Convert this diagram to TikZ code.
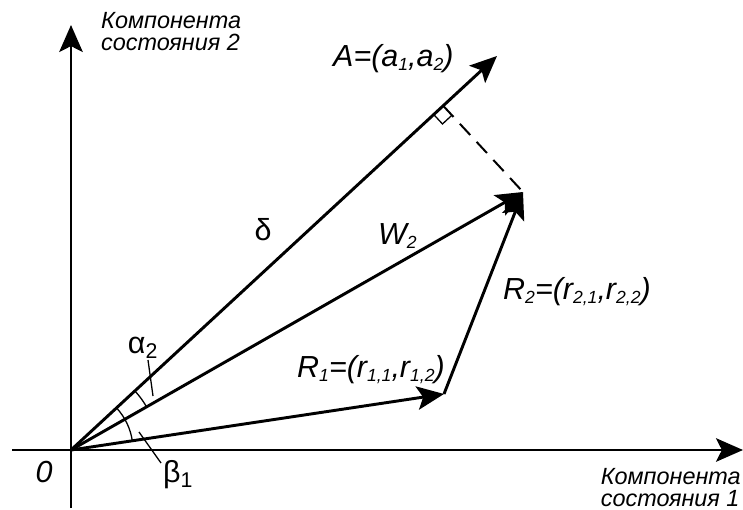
\documentclass[tikz,border=0pt]{standalone}
\usepackage{fontspec}
\setmainfont{Liberation Sans}
\usetikzlibrary{arrows.meta,calc,angles}

\newcommand{\lowidx}[1]{\raisebox{-0.2ex}{\fontsize{15}{15}\selectfont #1}}

\tikzset{
  vec/.style={line width=2.5pt, -{Stealth[length=23pt,width=20pt,inset=5pt]}},
  lbl/.style={font=\fontsize{26}{28}\selectfont\itshape, inner sep=0pt},
  grk/.style={font=\fontsize{26}{28}\selectfont, inner sep=0pt},
  axlbl/.style={font=\fontsize{20}{19}\selectfont\itshape, align=left, inner sep=0pt},
  thinline/.style={line width=1.1pt}
}

\begin{document}
\begin{tikzpicture}[x=0.03cm, y=0.03cm]
  \useasboundingbox (0,0) rectangle (743,-510);
  % points
  \coordinate (O) at (71,-450);
  \coordinate (Xs) at (12,-450);
  \coordinate (Xe) at (743,-450);
  \coordinate (Yb) at (71,-508);
  \coordinate (Ye) at (71,-25);
  \coordinate (A) at (497,-56);
  \coordinate (P) at (523,-192);
  \coordinate (R1) at (444,-394);
  \coordinate (F) at ($(O)!(P)!(A)$);
  % axes
  \draw[vec] (Xs) -- (Xe);
  \draw[vec] (Yb) -- (Ye);
  % vectors
  \draw[vec] (O) -- (A);
  \draw[vec] (O) -- (P);
  \draw[vec] (O) -- (R1);
  \draw[vec] (R1) -- (P);
  % projection and right angle mark
  \draw[line width=1.7pt, dash pattern=on 13pt off 8pt] (F) -- (P);
  \coordinate (m1) at ($(F)!11pt!(O)$);
  \coordinate (m3) at ($(F)!11pt!(P)$);
  \coordinate (m2) at ($(m1)+(m3)-(F)$);
  \draw[thinline] (m1) -- (m2) -- (m3);
  % angles
  \pic[draw, thinline, angle radius=2.61cm] {angle = P--O--A};
  \pic[draw, thinline, angle radius=1.86cm] {angle = R1--O--A};
  \coordinate (a2s) at (148,-360);
  \coordinate (a2e) at (153,-396);
  \coordinate (b1s) at (139,-432);
  \coordinate (b1e) at (161,-463);
  \draw[thinline] (a2s) -- (a2e);
  \draw[thinline] (b1s) -- (b1e);
  % labels
  \node[lbl, anchor=base west] (labA) at (333,-67) {A=(a\lowidx{1},a\lowidx{2})};
  \node[lbl, anchor=base west] (labW) at (378,-245) {W\lowidx{2}};
  \node[lbl, anchor=base west] (labR1) at (297,-378) {R\lowidx{1}=(r\lowidx{1,1},r\lowidx{1,2})};
  \node[lbl, anchor=base west] (labR2) at (503,-300) {R\lowidx{2}=(r\lowidx{2,1},r\lowidx{2,2})};
  \node[grk] (labd) at (263,-230) {δ};
  \node[grk] (laba) at (143,-348) {α\textsubscript{2}};
  \node[grk] (labb) at (178,-475) {β\textsubscript{1}};
  \node[lbl] (lab0) at (44,-472) {0};
  \node[axlbl, anchor=north west] (laby) at (101,-12) {Компонента\\состояния 2};
  \node[axlbl, anchor=north east] (labx) at (741,-468) {Компонента\\состояния 1};
\end{tikzpicture}
\end{document}
